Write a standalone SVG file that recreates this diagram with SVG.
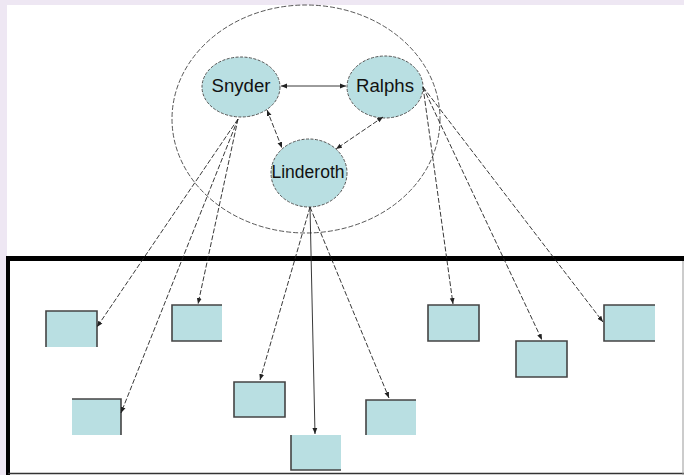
<svg xmlns="http://www.w3.org/2000/svg" width="684" height="475" viewBox="0 0 684 475">
<defs>
<marker id="ah" viewBox="0 0 10 10" refX="10" refY="5" markerWidth="6" markerHeight="6" orient="auto-start-reverse" markerUnits="userSpaceOnUse">
<path d="M0,1 L10,5 L0,9 z" fill="#222"/>
</marker>
<style>
.bg{fill:#eee7f3}
.node ellipse{fill:#b9dfe2;stroke:#555;stroke-width:1;stroke-dasharray:3 1.5}
.node text{font-family:"Liberation Sans",Arial,sans-serif;font-size:17.5px;fill:#111;text-anchor:middle}
.box rect{fill:#b9dfe2}
.box path{fill:none;stroke:#444;stroke-width:1.6}
.c{fill:none;stroke:#222;stroke-width:0.9;stroke-dasharray:5 2}
.solid{stroke-dasharray:none}
</style>
</defs>
<rect class="bg" x="0" y="0" width="684" height="475"/>
<rect x="7" y="5" width="677" height="470" fill="#ffffff"/>

<g id="group-ellipse">
<ellipse cx="306" cy="119" rx="134" ry="114" fill="none" stroke="#444" stroke-width="0.9" stroke-dasharray="5 2"/>
</g>

<g id="frame">
<line x1="6" y1="258.5" x2="684" y2="258.5" stroke="#000" stroke-width="5"/>
<line x1="8" y1="256" x2="8" y2="475" stroke="#000" stroke-width="4"/>
<line x1="8" y1="473.5" x2="684" y2="473.5" stroke="#333" stroke-width="1.5"/>
<line x1="683" y1="261" x2="683" y2="475" stroke="#999" stroke-width="1"/>
</g>

<g id="snyder" class="node">
<ellipse cx="241" cy="87" rx="39" ry="30"/>
<text x="241" y="92" textLength="59" lengthAdjust="spacingAndGlyphs">Snyder</text>
</g>
<g id="ralphs" class="node">
<ellipse cx="385" cy="87" rx="38" ry="31"/>
<text x="385" y="92" textLength="58" lengthAdjust="spacingAndGlyphs">Ralphs</text>
</g>
<g id="linderoth" class="node">
<ellipse cx="309" cy="173" rx="38" ry="34"/>
<text x="308" y="178" textLength="73" lengthAdjust="spacingAndGlyphs">Linderoth</text>
</g>

<g id="box-a" class="box"><rect x="46" y="311" width="51" height="36"/><path d="M46,347 V311 H97 V347"/></g>
<g id="box-b" class="box"><rect x="72" y="399" width="49" height="36"/><path d="M72,399 H121 V435"/></g>
<g id="box-c" class="box"><rect x="172" y="305" width="50" height="36"/><path d="M222,305 H172 V341 H222"/></g>
<g id="box-d" class="box"><rect x="234" y="382" width="51" height="35"/><path d="M234,382 H285 V417 H234 Z"/></g>
<g id="box-e" class="box"><rect x="291" y="435" width="50" height="35"/><path d="M291,435 V470 H341"/></g>
<g id="box-f" class="box"><rect x="366" y="400" width="50" height="35"/><path d="M366,435 V400 H416"/></g>
<g id="box-g" class="box"><rect x="428" y="305" width="51" height="36"/><path d="M428,305 H479 V341 H428 Z"/></g>
<g id="box-h" class="box"><rect x="516" y="341" width="51" height="36"/><path d="M516,341 H567 V377 H516 Z"/></g>
<g id="box-i" class="box"><rect x="604" y="305" width="51" height="36"/><path d="M655,305 H604 V341 H655"/></g>

<g id="connectors">
<line class="c solid" x1="281" y1="86" x2="346" y2="86" marker-start="url(#ah)" marker-end="url(#ah)"/>
<line class="c" x1="267" y1="110" x2="282" y2="148" marker-start="url(#ah)" marker-end="url(#ah)"/>
<line class="c" x1="383" y1="117" x2="336" y2="149" marker-start="url(#ah)" marker-end="url(#ah)"/>

<line class="c" x1="238" y1="119" x2="97" y2="327" marker-end="url(#ah)"/>
<line class="c" x1="238" y1="119" x2="121" y2="413" marker-end="url(#ah)"/>
<line class="c" x1="238" y1="119" x2="198" y2="304" marker-end="url(#ah)"/>

<line class="c" x1="310" y1="207" x2="260" y2="380" marker-end="url(#ah)"/>
<line class="c solid" x1="310" y1="207" x2="315" y2="434" marker-end="url(#ah)"/>
<line class="c" x1="310" y1="207" x2="389" y2="398" marker-end="url(#ah)"/>

<line class="c" x1="423" y1="87" x2="453" y2="304" marker-end="url(#ah)"/>
<line class="c" x1="423" y1="87" x2="542" y2="340" marker-end="url(#ah)"/>
<line class="c" x1="423" y1="87" x2="603" y2="322" marker-end="url(#ah)"/>
</g>
</svg>
